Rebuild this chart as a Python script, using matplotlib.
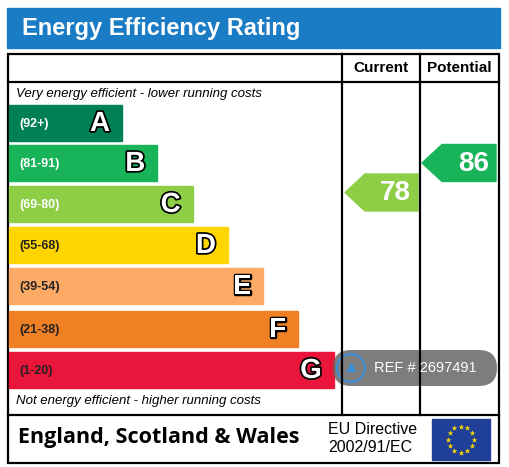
import matplotlib
matplotlib.use("Agg")
import matplotlib.pyplot as plt
import matplotlib.patheffects as pe
from matplotlib.patches import Rectangle, Polygon, FancyBboxPatch, Circle
import numpy as np

bands = ["A", "B", "C", "D", "E", "F", "G"]
ranges = ["(92+)", "(81-91)", "(69-80)", "(55-68)", "(39-54)", "(21-38)", "(1-20)"]
lows = [92, 81, 69, 55, 39, 21, 1]
colors = ["#008054", "#19b459", "#8dce46", "#ffd500", "#fcaa65", "#ef8023", "#e9153b"]
current = 78
potential = 86

fig = plt.figure(figsize=(5.09, 4.67), dpi=100)
ax = fig.add_axes([0, 0, 1, 1])
ax.set_xlim(0, 509); ax.set_ylim(467, 0); ax.axis("off")

ax.add_patch(Rectangle((7, 8), 493, 40, color="#1a7cc4"))
ax.text(22, 28, "Energy Efficiency Rating", color="white", fontsize=17, fontweight="bold", va="center", family="Liberation Sans")

lw = 1.6
ax.add_patch(Rectangle((8, 54), 491, 409, fill=False, ec="black", lw=lw))
ax.plot([8, 499], [82, 82], color="black", lw=lw)
ax.plot([8, 499], [415, 415], color="black", lw=lw)
ax.plot([342, 342], [54, 415], color="black", lw=lw)
ax.plot([420, 420], [54, 415], color="black", lw=lw)
ax.text(381, 68, "Current", fontsize=11, fontweight="bold", ha="center", va="center", family="Liberation Sans")
ax.text(459, 68, "Potential", fontsize=11, fontweight="bold", ha="center", va="center", family="Liberation Sans")
ax.text(16, 94, "Very energy efficient - lower running costs", fontsize=9.5, style="italic", va="center", family="Liberation Sans")
ax.text(16, 401, "Not energy efficient - higher running costs", fontsize=9.5, style="italic", va="center", family="Liberation Sans")

tops = [105, 145, 186, 227, 268, 311, 352]
h = 36
for i, (b, r, c) in enumerate(zip(bands, ranges, colors)):
    right = 122 + i * 35.3
    y0 = tops[i]
    ax.add_patch(Rectangle((9, y0), right - 9, h, color=c))
    tc = "white" if i < 3 else "#222222"
    ax.text(19, y0 + h / 2 + 1, r, fontsize=9, fontweight="bold", color=tc, va="center", family="Liberation Sans")
    t = ax.text(right - 12, y0 + h / 2 + 1, b, fontsize=20, fontweight="bold", color="white", ha="right", va="center", family="Liberation Sans")
    t.set_path_effects([pe.withStroke(linewidth=2.5, foreground="black")])

def band_idx(v):
    for i, lo in enumerate(lows):
        if v >= lo:
            return i
    return 6

def arrow(x0, x1, yc, val):
    i = band_idx(val)
    hh = 37
    pts = [(x0, yc), (x0 + 20, yc - hh / 2), (x1, yc - hh / 2), (x1, yc + hh / 2), (x0 + 20, yc + hh / 2)]
    ax.add_patch(Polygon(pts, closed=True, color=colors[i]))
    ax.text(x1 - 7, yc + 1, str(val), fontsize=20, fontweight="bold", color="white", ha="right", va="center", family="Liberation Sans")

arrow(345, 418, 192.5, current)
arrow(422, 496, 163, potential)

ax.text(18, 438, "England, Scotland & Wales", fontsize=15.5, fontweight="bold", va="center", family="Open Sans")
ax.text(328, 429, "EU Directive", fontsize=11.5, va="center", family="Liberation Sans")
ax.text(328, 448, "2002/91/EC", fontsize=11.5, va="center", family="Liberation Sans")
ax.add_patch(Rectangle((432, 419), 58, 41, color="#1f3f98"))
for a in np.linspace(0, 2 * np.pi, 13)[:-1]:
    ax.plot(461 + 13 * np.cos(a), 439.5 + 13 * np.sin(a), marker="*", color="#ffdd00", ms=4, mec="none")

ax.add_patch(FancyBboxPatch((333, 350), 164, 36, boxstyle="round,pad=0,rounding_size=18", color="#666666", alpha=0.85, lw=0))
ax.add_patch(Circle((351, 368), 14, fc="none", ec="#3a8fd8", lw=1.5))
ax.plot(351, 367, marker="^", color="#3a8fd8", ms=6)
ax.text(374, 368, "REF # 2697491", fontsize=10.5, color="white", va="center", family="Liberation Sans")

fig.savefig("out.png", dpi=100)
